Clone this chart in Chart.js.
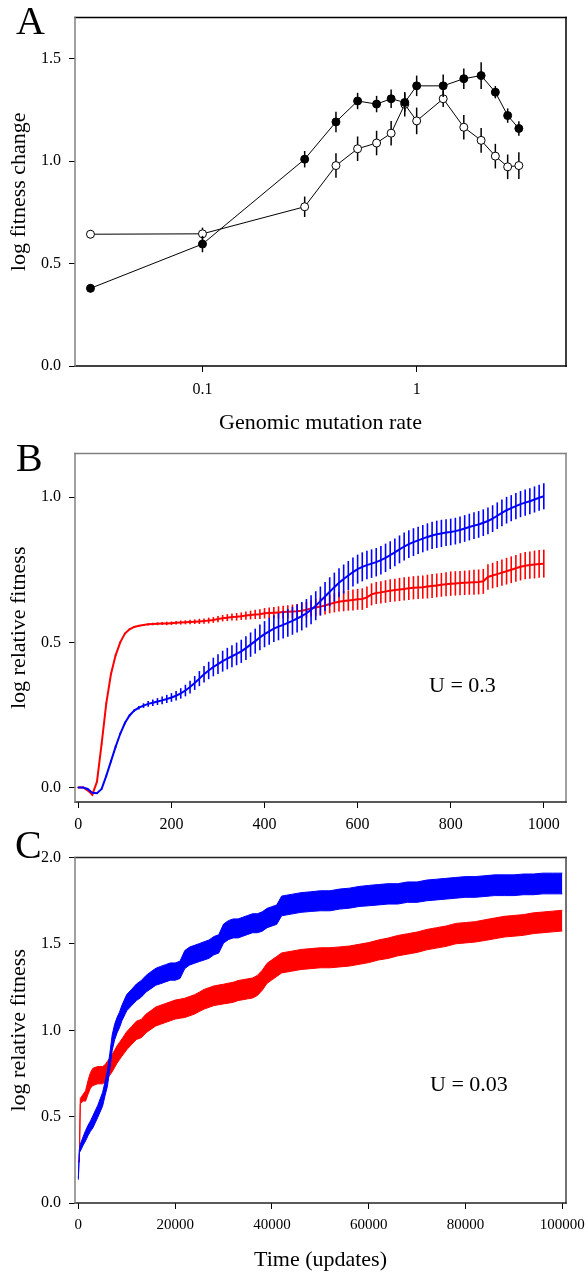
<!DOCTYPE html>
<html><head><meta charset="utf-8">
<script src="https://cdn.jsdelivr.net/npm/chart.js@4.4.0/dist/chart.umd.min.js"></script>
<style>
html,body{margin:0;padding:0;background:#fff;width:585px;height:1272px;overflow:hidden;position:relative;}
canvas{position:absolute;left:0;}
.letter{position:absolute;font-family:"Liberation Serif","Times New Roman",serif;font-size:40px;line-height:40px;color:#000;}
.note{position:absolute;font-family:"Liberation Serif","Times New Roman",serif;font-size:22px;line-height:22px;color:#000;white-space:nowrap;}
</style></head><body>
<canvas id="cA" width="585" height="436" style="top:0px"></canvas>
<canvas id="cB" width="585" height="404" style="top:436px"></canvas>
<canvas id="cC" width="585" height="432" style="top:840px"></canvas>
<div class="letter" style="left:16px;top:1px">A</div>
<div class="letter" style="left:16px;top:438px">B</div>
<div class="letter" style="left:15px;top:825px">C</div>
<div class="note" style="left:429px;top:674px">U = 0.3</div>
<div class="note" style="left:430px;top:1073px">U = 0.03</div>
<script>
// ---------- Panel A data ----------
const aRate = [0.03,0.1,0.3,0.42,0.53,0.65,0.76,0.88,1.0,1.33,1.66,2.0,2.33,2.66,3.0];
const aFilled = [0.379,0.595,1.009,1.191,1.293,1.278,1.304,1.286,1.367,1.367,1.402,1.417,1.336,1.222,1.159];
const aFilledErr = [0.02,0.04,0.04,0.05,0.04,0.04,0.045,0.045,0.05,0.055,0.05,0.065,0.03,0.035,0.035];
const aOpen = [0.643,0.645,0.777,0.978,1.060,1.088,1.136,1.277,1.196,1.304,1.165,1.101,1.024,0.972,0.978];
const aOpenErr = [0.02,0.03,0.05,0.06,0.06,0.06,0.06,0.06,0.065,0.04,0.06,0.06,0.06,0.06,0.065];
const aXTicks = [0.1,1];
const aXTickLabels = ['0.1','1'];
const aYTicks = [0,0.5,1.0,1.5];

// ---------- Panel B data ----------
const bTime = [0,10,20,30,40,50,60,70,80,90,100,110,120,130,140,150,160,170,180,190,200,210,220,230,240,250,260,270,280,290,300,310,320,330,340,350,360,370,380,390,400,410,420,430,440,450,460,470,480,490,500,510,520,530,540,550,560,570,580,590,600,610,620,630,640,650,660,670,680,690,700,710,720,730,740,750,760,770,780,790,800,810,820,830,840,850,860,870,880,890,900,910,920,930,940,950,960,970,980,990,1000];
const bBlue = [0.000,0.000,-0.005,-0.018,-0.020,-0.005,0.040,0.090,0.140,0.185,
0.222,0.248,0.265,0.275,0.282,0.288,0.292,0.296,0.300,0.305,
0.310,0.316,0.324,0.334,0.346,0.360,0.375,0.390,0.403,0.415,
0.425,0.435,0.444,0.452,0.460,0.469,0.480,0.492,0.504,0.517,
0.528,0.538,0.547,0.554,0.560,0.567,0.574,0.582,0.590,0.600,
0.612,0.626,0.642,0.658,0.674,0.690,0.705,0.718,0.730,0.742,
0.752,0.760,0.766,0.771,0.776,0.783,0.791,0.800,0.810,0.820,
0.830,0.838,0.845,0.851,0.857,0.863,0.868,0.872,0.875,0.878,
0.880,0.883,0.887,0.892,0.897,0.902,0.906,0.912,0.918,0.926,
0.936,0.946,0.955,0.962,0.969,0.976,0.981,0.986,0.992,0.998,
1.003];
const bBlueErr = [0.002,0.002,0.002,0.002,0.002,0.002,0.004,0.004,0.004,0.004,
0.004,0.004,0.004,0.006,0.008,0.010,0.011,0.012,0.013,0.014,
0.015,0.016,0.018,0.020,0.022,0.024,0.026,0.028,0.030,0.032,
0.034,0.036,0.037,0.038,0.039,0.040,0.041,0.042,0.043,0.044,
0.045,0.046,0.046,0.047,0.047,0.048,0.048,0.048,0.049,0.049,
0.050,0.050,0.050,0.050,0.050,0.050,0.050,0.050,0.050,0.050,
0.050,0.050,0.049,0.049,0.049,0.049,0.049,0.048,0.048,0.048,
0.048,0.048,0.048,0.047,0.047,0.047,0.047,0.047,0.047,0.046,
0.046,0.046,0.046,0.046,0.046,0.046,0.046,0.046,0.046,0.046,
0.046,0.046,0.046,0.045,0.045,0.045,0.045,0.045,0.045,0.045,
0.045];
const bRed = [0.000,0.000,-0.010,-0.025,0.020,0.150,0.290,0.390,0.455,0.500,
0.530,0.545,0.553,0.557,0.560,0.562,0.563,0.564,0.565,0.565,
0.566,0.567,0.568,0.569,0.570,0.571,0.572,0.573,0.575,0.577,
0.580,0.583,0.585,0.587,0.588,0.590,0.592,0.594,0.596,0.597,
0.600,0.601,0.602,0.603,0.604,0.605,0.606,0.607,0.609,0.612,
0.617,0.620,0.623,0.627,0.632,0.636,0.640,0.642,0.644,0.646,
0.648,0.649,0.655,0.665,0.670,0.672,0.675,0.678,0.680,0.682,
0.684,0.686,0.688,0.689,0.690,0.692,0.694,0.696,0.698,0.700,
0.702,0.703,0.704,0.705,0.706,0.707,0.708,0.710,0.725,0.730,
0.735,0.740,0.745,0.750,0.755,0.760,0.764,0.766,0.768,0.770,
0.771];
const bRedErr = [0.003,0.003,0.003,0.003,0.003,0.003,0.003,0.003,0.003,0.003,
0.003,0.003,0.003,0.003,0.003,0.004,0.004,0.005,0.005,0.006,
0.006,0.006,0.007,0.007,0.008,0.008,0.009,0.009,0.010,0.010,
0.011,0.011,0.012,0.012,0.013,0.013,0.014,0.015,0.016,0.017,
0.018,0.019,0.020,0.021,0.022,0.023,0.024,0.025,0.026,0.027,
0.028,0.029,0.030,0.031,0.032,0.033,0.034,0.035,0.035,0.036,
0.036,0.037,0.037,0.038,0.038,0.038,0.039,0.039,0.039,0.040,
0.040,0.040,0.040,0.040,0.040,0.041,0.041,0.041,0.041,0.041,
0.042,0.042,0.042,0.042,0.042,0.043,0.043,0.043,0.044,0.044,
0.045,0.045,0.046,0.046,0.046,0.047,0.047,0.047,0.048,0.048,
0.048];
const bXTicks = [0,200,400,600,800,1000];
const bYTicks = [0,0.5,1.0];

// ---------- Panel C data ----------
const cTime = [0,200,400,1000,1500,2000,2500,3000,4000,5000,5500,6000,6500,7000,7500,8000,8500,9000,
10000,11000,12000,13000,14000,15000,16000,17000,18000,19000,20000,21000,22000,23000,24000,25000,26000,27000,28000,29000,30000,31000,32000,33000,34000,35000,36000,37000,38000,39000,40000,41000,42000,
44000,46000,48000,50000,52000,54000,56000,58000,60000,62000,64000,66000,68000,70000,72000,74000,76000,78000,80000,82000,84000,86000,88000,90000,92000,94000,96000,98000,100000];
const cBlue = [0.14,0.30,0.32,0.36,0.39,0.42,0.445,0.47,0.53,0.60,0.66,0.72,0.82,0.93,0.99,1.03,1.06,1.10,
1.16,1.19,1.22,1.24,1.27,1.29,1.31,1.32,1.33,1.34,1.34,1.35,1.41,1.43,1.44,1.45,1.46,1.47,1.49,1.50,1.56,1.58,1.59,1.59,1.60,1.61,1.62,1.62,1.63,1.65,1.66,1.67,1.72,
1.73,1.74,1.745,1.75,1.75,1.76,1.765,1.775,1.78,1.785,1.79,1.79,1.80,1.80,1.81,1.815,1.82,1.825,1.83,1.83,1.835,1.84,1.84,1.84,1.845,1.845,1.85,1.85,1.85];
const cBlueErr = [0.005,0.01,0.02,0.025,0.03,0.03,0.03,0.035,0.035,0.04,0.04,0.045,0.045,0.045,0.045,0.045,0.045,0.045,
0.047,0.047,0.048,0.048,0.048,0.049,0.049,0.05,0.05,0.05,0.05,0.05,0.052,0.052,0.052,0.052,0.053,0.053,0.053,0.053,0.055,0.055,0.055,0.055,0.055,0.055,0.055,0.055,0.056,0.056,0.056,0.056,0.057,
0.057,0.057,0.057,0.058,0.058,0.058,0.058,0.058,0.059,0.059,0.059,0.059,0.059,0.059,0.06,0.06,0.06,0.06,0.06,0.06,0.06,0.06,0.06,0.06,0.06,0.06,0.06,0.06,0.06];
const cRed = [0.24,0.24,0.59,0.61,0.62,0.67,0.71,0.73,0.74,0.74,0.75,0.77,0.79,0.81,0.835,0.86,0.88,0.90,
0.94,0.97,1.00,1.01,1.04,1.06,1.08,1.09,1.10,1.11,1.12,1.125,1.13,1.14,1.15,1.165,1.18,1.19,1.20,1.205,1.21,1.215,1.22,1.23,1.235,1.24,1.245,1.26,1.29,1.33,1.35,1.37,1.39,
1.40,1.41,1.415,1.42,1.42,1.425,1.43,1.44,1.45,1.465,1.475,1.49,1.50,1.51,1.525,1.535,1.545,1.56,1.565,1.57,1.58,1.59,1.60,1.605,1.61,1.62,1.625,1.63,1.635];
const cRedErr = [0.003,0.003,0.015,0.02,0.03,0.04,0.045,0.05,0.05,0.05,0.05,0.05,0.05,0.05,0.05,0.05,0.05,0.05,
0.052,0.052,0.053,0.053,0.054,0.054,0.055,0.055,0.055,0.055,0.055,0.055,0.056,0.056,0.056,0.056,0.057,0.057,0.057,0.057,0.057,0.058,0.058,0.058,0.058,0.058,0.058,0.058,0.058,0.058,0.058,0.058,0.058,
0.058,0.058,0.058,0.058,0.058,0.058,0.058,0.058,0.058,0.058,0.059,0.059,0.059,0.059,0.059,0.059,0.059,0.059,0.059,0.059,0.06,0.06,0.06,0.06,0.06,0.06,0.06,0.06,0.06];
const cXTicks = [0,20000,40000,60000,80000,100000];
const cYTicks = [0,0.5,1.0,1.5,2.0];

// ---------- helpers ----------
const SERIF = '"Liberation Serif", "Times New Roman", Times, serif';
Chart.defaults.font.family = SERIF;
Chart.defaults.color = '#000';
const AXIS_W = 75;      // y-axis box width -> plot left edge
const RIGHT_PAD = 19;   // plot right edge at 566

const boxPlugin = {
  id: 'box',
  afterDatasetsDraw(chart, args, o) {
    const {ctx, chartArea: a} = chart;
    ctx.save();
    ctx.lineWidth = o.width || 1.5;
    ctx.lineCap = 'square';
    const sides = [['top', a.left, a.top, a.right, a.top], ['right', a.right, a.top, a.right, a.bottom],
                   ['bottom', a.left, a.bottom, a.right, a.bottom], ['left', a.left, a.top, a.left, a.bottom]];
    sides.forEach(s => {
      ctx.strokeStyle = o[s[0]] || '#000';
      ctx.beginPath(); ctx.moveTo(s[1], s[2]); ctx.lineTo(s[3], s[4]); ctx.stroke();
    });
    ctx.restore();
  }
};
const errPlugin = {
  id: 'errbars',
  beforeDatasetDraw(chart, args) {
    const ds = chart.data.datasets[args.index];
    if (!ds.errors) return;
    const meta = args.meta;
    const ys = chart.scales[meta.yAxisID];
    const ctx = chart.ctx;
    ctx.save();
    ctx.strokeStyle = ds.errColor;
    ctx.lineWidth = ds.errWidth;
    meta.data.forEach((pt, i) => {
      const d = ds.data[i];
      const v = (typeof d === 'object') ? d.y : d;
      const e = ds.errors[i];
      ctx.beginPath();
      ctx.moveTo(pt.x, ys.getPixelForValue(v - e));
      ctx.lineTo(pt.x, ys.getPixelForValue(v + e));
      ctx.stroke();
    });
    ctx.restore();
  }
};
const pts = (xs, ys) => xs.map((x, i) => ({x: x, y: ys[i]}));
const gridCfg = () => ({display: true, drawOnChartArea: false, drawTicks: true, tickLength: 6, color: '#000', lineWidth: 1});
const tickFont = {size: 16, family: SERIF};
const tickFontC = {size: 15, family: SERIF};
const titleFont = {size: 22, family: SERIF, lineHeight: 1};
const xFit = h => s => { s.height = h; s.paddingLeft = 0; s.paddingRight = 0; };

function yAxis(min, max, ticks, title, fmt) {
  return {
    type: 'linear', min: min, max: max,
    afterBuildTicks: s => { s.ticks = ticks.map(v => ({value: v})); },
    afterFit: s => { s.width = AXIS_W; },
    grid: gridCfg(), border: {display: false},
    ticks: {font: tickFont, color: '#000', padding: 8, callback: v => fmt(v)},
    title: {display: true, text: title, font: titleFont, color: '#000', padding: {top: 8, bottom: 0}}
  };
}

// ---------- Chart A ----------
new Chart(document.getElementById('cA'), {
  type: 'line',
  data: {datasets: [
    {data: pts(aRate, aFilled), errors: aFilledErr, errColor: '#000', errWidth: 1.5,
     borderColor: '#000', borderWidth: 1, pointRadius: 4, pointBackgroundColor: '#000', pointBorderColor: '#000', pointBorderWidth: 1, fill: false},
    {data: pts(aRate, aOpen), errors: aOpenErr, errColor: '#000', errWidth: 1.5,
     borderColor: '#000', borderWidth: 1, pointRadius: 4, pointBackgroundColor: '#fff', pointBorderColor: '#000', pointBorderWidth: 1, fill: false}
  ]},
  options: {
    responsive: false, animation: false, devicePixelRatio: 1,
    layout: {padding: {top: 14, right: RIGHT_PAD, left: 0, bottom: 0}},
    plugins: {legend: {display: false}, tooltip: {enabled: false},
      box: {top: '#000', right: '#000', bottom: '#000', left: '#808080', width: 1.5}},
    scales: {
      x: {type: 'logarithmic', min: 0.0254, max: 4.98,
        afterBuildTicks: s => { s.ticks = aXTicks.map(v => ({value: v})); },
        afterFit: xFit(70),
        grid: gridCfg(), border: {display: false},
        ticks: {font: tickFont, color: '#000', padding: 8, autoSkip: false, maxRotation: 0,
          callback: (v) => aXTickLabels[aXTicks.indexOf(v)]},
        title: {display: true, text: 'Genomic mutation rate', font: titleFont, color: '#000', padding: {top: 0, bottom: 2}}},
      y: yAxis(0, 1.7, aYTicks, 'log fitness change', v => v.toFixed(1))
    }
  },
  plugins: [boxPlugin, errPlugin]
});

// ---------- Chart B ----------
new Chart(document.getElementById('cB'), {
  type: 'line',
  data: {datasets: [
    {data: pts(bTime, bBlue), errors: bBlueErr, errColor: '#0000ff', errWidth: 1.6,
     borderColor: '#0000ff', borderWidth: 2, pointRadius: 0, fill: false},
    {data: pts(bTime, bRed), errors: bRedErr, errColor: '#ff0000', errWidth: 1.6,
     borderColor: '#ff0000', borderWidth: 2, pointRadius: 0, fill: false}
  ]},
  options: {
    responsive: false, animation: false, devicePixelRatio: 1,
    layout: {padding: {top: 12, right: RIGHT_PAD, left: 0, bottom: 0}},
    plugins: {legend: {display: false}, tooltip: {enabled: false},
      box: {top: '#808080', right: '#808080', bottom: '#222', left: '#808080', width: 1.5}},
    scales: {
      x: {type: 'linear', min: -7.2, max: 1047.7,
        afterBuildTicks: s => { s.ticks = bXTicks.map(v => ({value: v})); },
        afterFit: xFit(38),
        grid: gridCfg(), border: {display: false},
        ticks: {font: tickFont, color: '#000', padding: 7, autoSkip: false, maxRotation: 0, callback: v => String(v)}},
      y: yAxis(-0.05, 1.15, bYTicks, 'log relative fitness', v => v.toFixed(1))
    }
  },
  plugins: [boxPlugin, errPlugin]
});

// ---------- Chart C ----------
const band = (t, m, e, sign) => t.map((x, i) => ({x: x, y: m[i] + sign * e[i]}));
new Chart(document.getElementById('cC'), {
  type: 'line',
  data: {datasets: [
    {data: band(cTime, cBlue, cBlueErr, -1), borderColor: '#0000ff', borderWidth: 1, pointRadius: 0, fill: false},
    {data: band(cTime, cBlue, cBlueErr, 1), borderColor: '#0000ff', borderWidth: 1, pointRadius: 0, fill: '-1', backgroundColor: '#0000ff'},
    {data: band(cTime, cRed, cRedErr, -1), borderColor: '#ff0000', borderWidth: 1, pointRadius: 0, fill: false},
    {data: band(cTime, cRed, cRedErr, 1), borderColor: '#ff0000', borderWidth: 1, pointRadius: 0, fill: '-1', backgroundColor: '#ff0000'}
  ]},
  options: {
    responsive: false, animation: false, devicePixelRatio: 1,
    layout: {padding: {top: 9, right: RIGHT_PAD, left: 0, bottom: 0}},
    plugins: {legend: {display: false}, tooltip: {enabled: false}, filler: {propagate: false},
      box: {top: '#222', right: '#444', bottom: '#222', left: '#808080', width: 1.5}},
    scales: {
      x: {type: 'linear', min: -692, max: 100760,
        afterBuildTicks: s => { s.ticks = cXTicks.map(v => ({value: v})); },
        afterFit: xFit(69),
        grid: gridCfg(), border: {display: false},
        ticks: {font: tickFontC, color: '#000', padding: 7, autoSkip: false, maxRotation: 0, callback: v => String(v)},
        title: {display: true, text: 'Time (updates)', font: titleFont, color: '#000', padding: {top: 0, bottom: 1}}},
      y: yAxis(0, 2.0, cYTicks, 'log relative fitness', v => v.toFixed(1))
    }
  },
  plugins: [boxPlugin]
});
</script>
</body></html>
